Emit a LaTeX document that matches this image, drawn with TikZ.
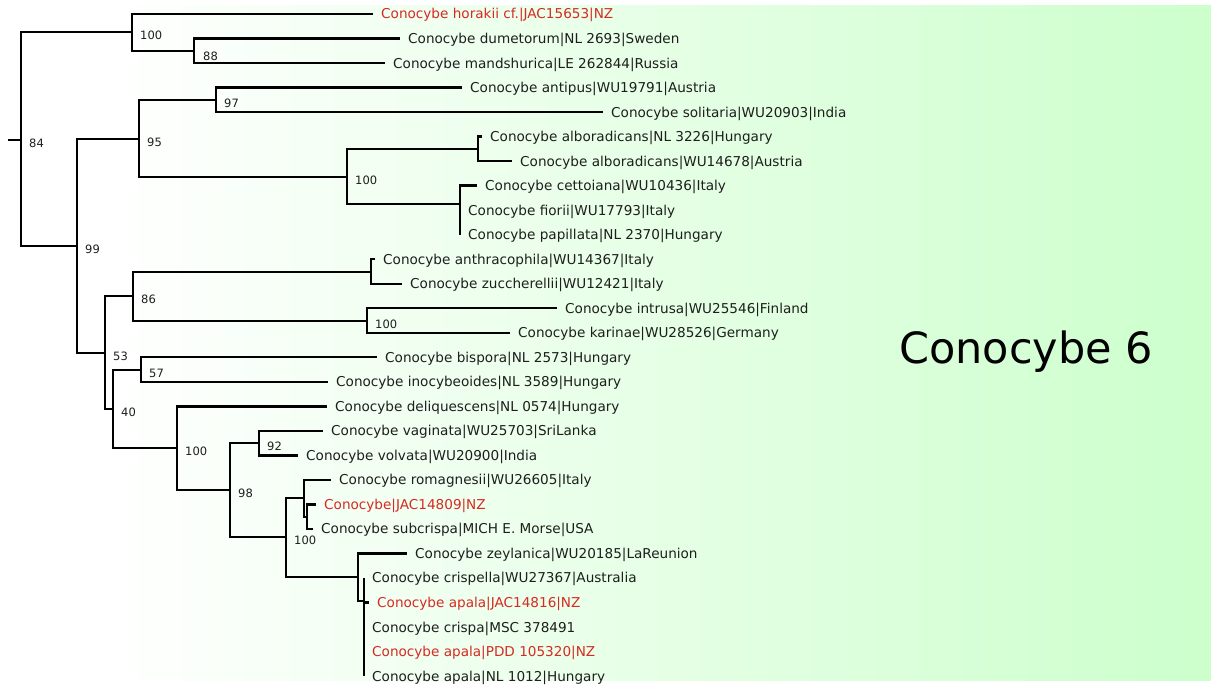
\documentclass[tikz,border=0pt]{standalone}
\usepackage{fontspec}
\setmainfont{DejaVu Sans}
\usetikzlibrary{calc}
\definecolor{bggreen}{RGB}{204,255,204}
\definecolor{tipred}{RGB}{214,42,34}
\definecolor{tipblack}{RGB}{30,30,30}
\begin{document}
\begin{tikzpicture}[x=1pt,y=-1pt,
  branch/.style={line width=2.4pt, line join=miter, draw=black},
  leaf/.style={font=\fontsize{13.6}{16}\selectfont, anchor=base west, inner sep=0pt},
  support/.style={font=\fontsize{11.5}{13}\selectfont, anchor=base west, inner sep=0pt, text=tipblack},
  title/.style={font=\fontsize{43}{50}\selectfont, anchor=base west, inner sep=0pt, text=black}]
\useasboundingbox (0,0) rectangle (1211,688);
\shade[left color=white, right color=bggreen] (105,5) rectangle (1211,680);

% internal nodes
\coordinate (R0) at (8,140);
\coordinate (R) at (21,140);
\coordinate (A) at (132,32);
\coordinate (A2) at (194,51);
\coordinate (B) at (77,246);
\coordinate (C) at (139,139);
\coordinate (C1) at (216,100);
\coordinate (C2) at (347,177);
\coordinate (C3) at (478,149);
\coordinate (C4) at (460,204);
\coordinate (D) at (105,353);
\coordinate (E) at (133,296);
\coordinate (E1) at (371,272);
\coordinate (E2) at (367,321);
\coordinate (F) at (113,409);
\coordinate (G) at (141,370);
\coordinate (H) at (177,448);
\coordinate (I) at (230,490);
\coordinate (J) at (259,443);
\coordinate (K) at (286,537);
\coordinate (L) at (304,498);
\coordinate (L2) at (307,517);
\coordinate (M) at (358,577);
\coordinate (N) at (364,601);

% tips and labels
\foreach \i/\tx/\col/\txt in {
  1/373/tipred/{Conocybe horakii cf.|JAC15653|NZ},
  2/400/tipblack/{Conocybe dumetorum|NL 2693|Sweden},
  3/385/tipblack/{Conocybe mandshurica|LE 262844|Russia},
  4/462/tipblack/{Conocybe antipus|WU19791|Austria},
  5/603/tipblack/{Conocybe solitaria|WU20903|India},
  6/482/tipblack/{Conocybe alboradicans|NL 3226|Hungary},
  7/512/tipblack/{Conocybe alboradicans|WU14678|Austria},
  8/477/tipblack/{Conocybe cettoiana|WU10436|Italy},
  9/460/tipblack/{Conocybe fiorii|WU17793|Italy},
  10/460/tipblack/{Conocybe papillata|NL 2370|Hungary},
  11/375/tipblack/{Conocybe anthracophila|WU14367|Italy},
  12/402/tipblack/{Conocybe zuccherellii|WU12421|Italy},
  13/557/tipblack/{Conocybe intrusa|WU25546|Finland},
  14/510/tipblack/{Conocybe karinae|WU28526|Germany},
  15/377/tipblack/{Conocybe bispora|NL 2573|Hungary},
  16/328/tipblack/{Conocybe inocybeoides|NL 3589|Hungary},
  17/327/tipblack/{Conocybe deliquescens|NL 0574|Hungary},
  18/323/tipblack/{Conocybe vaginata|WU25703|SriLanka},
  19/298/tipblack/{Conocybe volvata|WU20900|India},
  20/331/tipblack/{Conocybe romagnesii|WU26605|Italy},
  21/316/tipred/{Conocybe|JAC14809|NZ},
  22/313/tipblack/{Conocybe subcrispa|MICH E. Morse|USA},
  23/407/tipblack/{Conocybe zeylanica|WU20185|LaReunion},
  24/364/tipblack/{Conocybe crispella|WU27367|Australia},
  25/369/tipred/{Conocybe apala|JAC14816|NZ},
  26/364/tipblack/{Conocybe crispa|MSC 378491},
  27/364/tipred/{Conocybe apala|PDD 105320|NZ},
  28/364/tipblack/{Conocybe apala|NL 1012|Hungary}} {
  \pgfmathsetmacro\ty{14+(\i-1)*24.52}
  \coordinate (t\i) at (\tx,\ty);
  \node[leaf, text=\col] (l\i) at (\tx+8,\ty+5) {\txt};
}

% branches
\draw[branch] (R0) -- (R);
\foreach \p/\c in {R/A, R/B, A/t1, A/A2, A2/t2, A2/t3, B/C, B/D, C/C1, C/C2,
  C1/t4, C1/t5, C2/C3, C2/C4, C3/t6, C3/t7, C4/t8, C4/t9, C4/t10,
  D/E, D/F, E/E1, E/E2, E1/t11, E1/t12, E2/t13, E2/t14, F/G, F/H,
  G/t15, G/t16, H/t17, H/I, I/J, I/K, J/t18, J/t19, K/L, K/M,
  L/t20, L/L2, L2/t21, L2/t22, M/t23, M/N, N/t24, N/t25, N/t26, N/t27, N/t28}
  \draw[branch] (\p) |- (\c);

% support values
\foreach \n/\v in {R/84, A/100, B/99, C/95, C1/97, C2/100, D/53, E/86, E2/100,
  F/40, G/57, H/100, I/98, J/92, K/100}
  \node[support] (s\n) at ($(\n)+(8,7.5)$) {\v};
\node[support] (sA2) at ($(A2)+(9,9.5)$) {88};

% title
\node[title] (ttl) at (899,363) {Conocybe 6};
\end{tikzpicture}
\end{document}
